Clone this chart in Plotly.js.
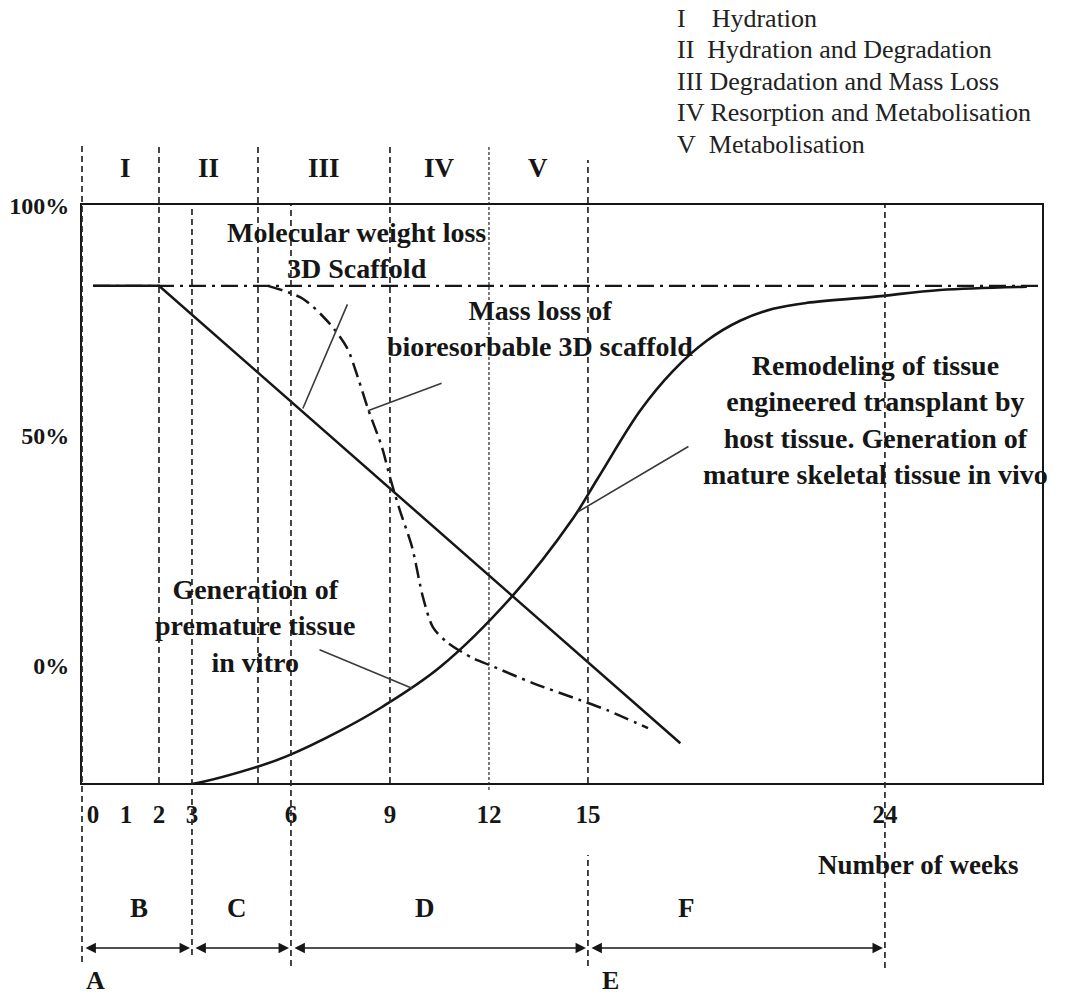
<!DOCTYPE html>
<html>
<head>
<meta charset="utf-8">
<script src="https://cdn.plot.ly/plotly-3.0.1.min.js"></script>
<style>
  html, body { margin: 0; padding: 0; background: #fff; }
  #chart { width: 1078px; height: 1000px; }
</style>
</head>
<body>
<div id="chart"></div>
<script>
// ---- data: time in weeks, level in percent ----
const flatWeeks = [0, 28.8];
const flatValues = [82.6, 82.6];

const mwWeeks = [0, 2.0, 17.8];
const mwValues = [82.6, 82.6, -17.0];

const massWeeks = [5.3, 6.36, 7.18, 7.7, 8.03, 8.33, 8.76, 9.0, 9.3, 9.67, 10.0, 10.3, 10.73, 11.52, 12.03, 13.33, 14.76, 15.58, 16.82];
const massValues = [82.6, 79.8, 74.3, 69.1, 62.6, 55.9, 47.4, 40.9, 33.7, 25.7, 14.8, 8.3, 5.0, 1.5, 0.0, -3.9, -7.6, -9.8, -13.7];

const tissueWeeks = [1.61, 3.0, 4.94, 5.88, 7.48, 8.76, 10.52, 12.7, 14.55, 15.3, 16.58, 17.58, 18.61, 19.61, 20.61, 21.64, 23.64, 25.67, 28.3];
const tissueValues = [-27.2, -25.9, -22.2, -19.8, -14.3, -9.1, -0.4, 15.0, 32.0, 40.7, 55.4, 64.1, 70.7, 75.0, 77.6, 78.9, 80.2, 81.7, 82.4];

const weekTicks = [0, 1, 2, 3, 6, 9, 12, 15, 24];
const pctTicks = [0, 50, 100];
const pctLabels = ['0%', '50%', '100%'];

const phaseBounds = [0, 2, 5, 9, 12, 15];
const phaseNames = ['I', 'II', 'III', 'IV', 'V'];
const phaseDescriptions = ['Hydration', 'Hydration and Degradation', 'Degradation and Mass Loss',
                           'Resorption and Metabolisation', 'Metabolisation'];

const stageBounds = [0, 3, 6, 15, 24];
const stageNames = ['B', 'C', 'D', 'F'];

// ---- styling ----
const serif = 'Liberation Serif, Times New Roman, serif';
const ink = '#161616';
const xRange = [-0.333, 28.76];
const yRange = [-25.65, 100.2];

const boldFont = (size) => ({ family: serif, size: size, weight: 700, color: ink });

const traces = [
  { x: flatWeeks, y: flatValues, mode: 'lines',
    line: { color: ink, width: 2.3, dash: '17px,6px,3px,6px' } },
  { x: mwWeeks, y: mwValues, mode: 'lines',
    line: { color: ink, width: 2.5 } },
  { x: massWeeks, y: massValues, mode: 'lines',
    line: { color: ink, width: 2.5, dash: '15px,6px,3px,6px', shape: 'spline', smoothing: 0.8 } },
  { x: tissueWeeks, y: tissueValues, mode: 'lines',
    line: { color: ink, width: 2.6, shape: 'spline', smoothing: 1.0 } }
];

// paper y from a pixel row of the 1000px-high page (plot area spans rows 205..783)
const py = (row) => (783 - row) / 578;

// vertical phase / stage markers
const shapes = [];
function vline(xref, x, yTop, yBottom, dash, width) {
  shapes.push({ type: 'line', xref: xref, yref: 'paper', x0: x, x1: x, y0: yBottom, y1: yTop,
                line: { color: '#262626', width: width || 1.7, dash: dash || '6px,4px' } });
}
vline('x domain', 0, py(145), py(962));
vline('x', 2, py(145), 0);
vline('x', 3, 1, py(955));
vline('x', 5, py(145), 0);
vline('x', 6, 1, py(966));
vline('x', 9, py(145), 0);
vline('x', 12, py(145), py(790), '3px,2px', 1.2);
vline('x', 15, py(160), 0);
vline('x', 15, py(855), py(966));
vline('x', 24, 1, py(968));

const annotations = [];
function label(xref, x, yref, y, text, font) {
  annotations.push({ xref: xref, yref: yref, x: x, y: y, text: text, showarrow: false,
                     xanchor: 'center', yanchor: 'middle', align: 'center', font: font });
}

// phase numerals above the frame
phaseNames.forEach((n, i) => {
  label('x', (phaseBounds[i] + phaseBounds[i + 1]) / 2, 'paper', py(168), n, boldFont(27));
});

// phase key, top right
const keyPad = ['\u00a0\u00a0\u00a0 ', '\u00a0 ', ' ', ' ', '\u00a0 '];
phaseNames.forEach((n, i) => {
  annotations.push({
    xref: 'paper', yref: 'paper', x: 0.618, y: py(18 + i * 31.6), xanchor: 'left', yanchor: 'middle',
    align: 'left', showarrow: false, text: n + keyPad[i] + phaseDescriptions[i],
    font: { family: serif, size: 26, color: '#222' }
  });
});

// curve captions
const captions = [
  { x: 8.0, y: 90.2, text: 'Molecular weight loss<br>3D Scaffold' },
  { x: 13.55, y: 73.3, text: 'Mass loss of<br>bioresorbable 3D scaffold' },
  { x: 23.7, y: 53.3, text: 'Remodeling of tissue<br>engineered transplant by<br>host tissue. Generation of<br>mature skeletal tissue in vivo' },
  { x: 4.9, y: 8.5, text: 'Generation of<br>premature tissue<br>in vitro' }
];
captions.forEach(c => label('x', c.x, 'y', c.y, c.text, boldFont(28)));

// leader lines from captions to curves
const leaders = [
  { x: 6.36, y: 55.9, ax: 7.73, ay: 78.9 },
  { x: 8.33, y: 55.4, ax: 10.61, ay: 61.5 },
  { x: 14.7, y: 33.4, ax: 18.09, ay: 47.8 },
  { x: 9.67, y: -5.0, ax: 6.82, ay: 3.5 }
];
leaders.forEach(l => annotations.push({ xref: 'x', yref: 'y', axref: 'x', ayref: 'y',
  x: l.x, y: l.y, ax: l.ax, ay: l.ay, text: '', showarrow: true, arrowhead: 0,
  arrowwidth: 1.6, arrowcolor: '#3a3a3a', font: { size: 2 } }));

// stage spans below the axis
const stageLabelWeeks = [1.4, 4.35, 10.05, 18.0];
stageNames.forEach((n, i) => {
  const start = i === 0 ? xRange[0] : stageBounds[i];
  const end = stageBounds[i + 1];
  annotations.push({ xref: 'x', yref: 'paper', axref: 'x', ayref: 'pixel',
    x: end, y: py(948), ax: start, ay: 0, text: '', showarrow: true,
    arrowside: 'end+start', arrowhead: 2, startarrowhead: 2, arrowsize: 1.3, startarrowsize: 1.3,
    arrowwidth: 1.6, arrowcolor: ink, standoff: 2, startstandoff: 2, font: { size: 2 } });
  label('x', stageLabelWeeks[i], 'paper', py(908), n, boldFont(27));
});
label('x', 0.09, 'paper', py(980), 'A', boldFont(26));
label('x', 15.67, 'paper', py(980), 'E', boldFont(26));
label('paper', 0.871, 'paper', py(865), 'Number of weeks', boldFont(27));

const layout = {
  width: 1078, height: 1000,
  margin: { l: 82, r: 36, t: 205, b: 217 },
  paper_bgcolor: '#fff', plot_bgcolor: '#fff',
  showlegend: false, hovermode: false,
  xaxis: {
    range: xRange, showgrid: false, zeroline: false,
    showline: true, mirror: true, linecolor: ink, linewidth: 2,
    ticks: '', tickvals: weekTicks, ticktext: weekTicks.map(String),
    ticklabelstandoff: 8, tickfont: boldFont(25)
  },
  yaxis: {
    range: yRange, showgrid: false, zeroline: false,
    showline: true, mirror: true, linecolor: ink, linewidth: 2,
    ticks: '', tickvals: pctTicks, ticktext: pctLabels,
    ticklabelstandoff: 6, tickfont: boldFont(24)
  },
  shapes: shapes,
  annotations: annotations
};

Plotly.newPlot('chart', traces, layout, { displayModeBar: false, staticPlot: true });
</script>
</body>
</html>
